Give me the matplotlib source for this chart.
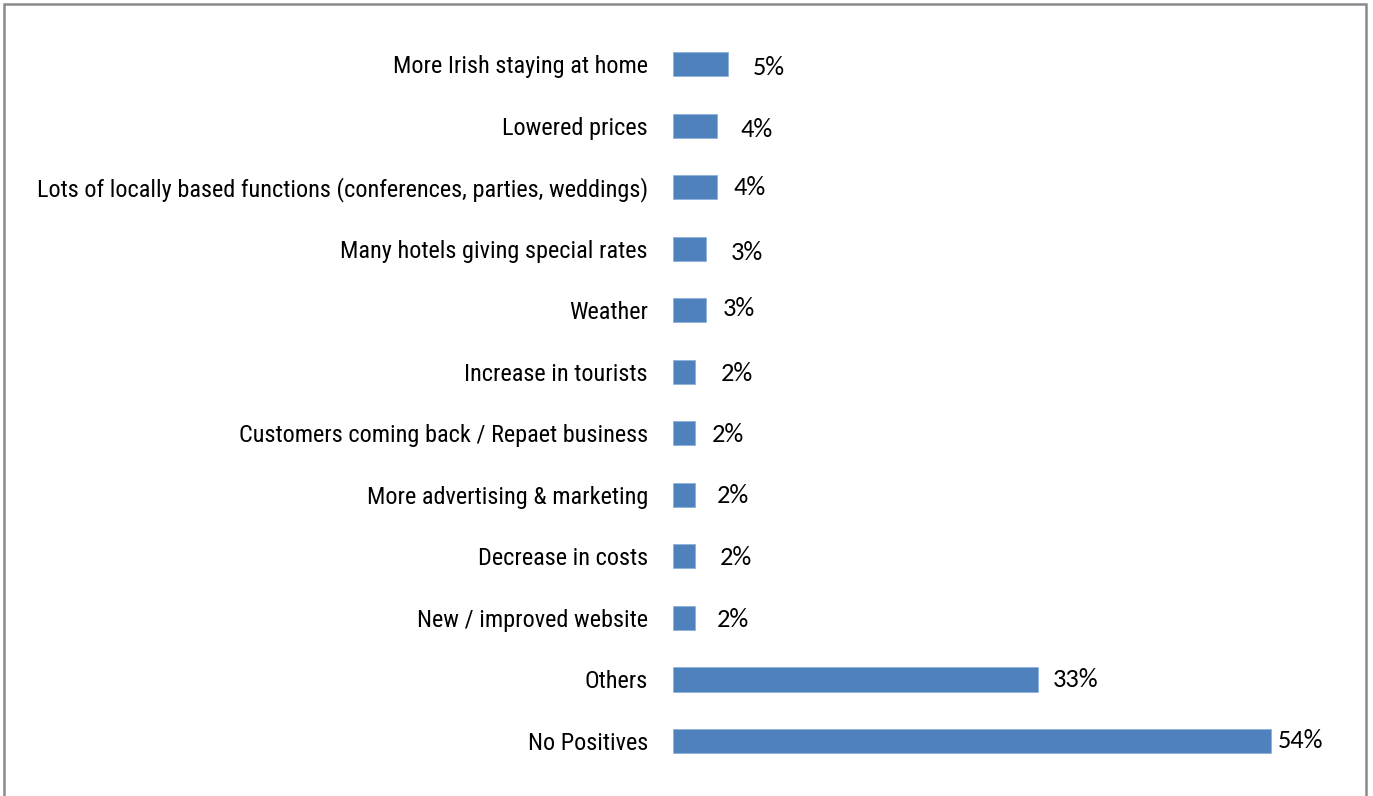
import matplotlib
matplotlib.use("Agg")
import matplotlib.pyplot as plt
from matplotlib.patches import Rectangle

categories = [
    "More Irish staying at home",
    "Lowered prices",
    "Lots of locally based functions (conferences, parties, weddings)",
    "Many hotels giving special rates",
    "Weather",
    "Increase in tourists",
    "Customers coming back / Repaet business",
    "More advertising & marketing",
    "Decrease in costs",
    "New / improved website",
    "Others",
    "No Positives",
]
values = [5, 4, 4, 3, 3, 2, 2, 2, 2, 2, 33, 54]
value_labels = [f"{v}%" for v in values]

# hand-placed label nudges (pixels right of bar end, pixels down)
label_dx = [24, 23, 16, 25, 17, 26, 17, 22, 25, 22, 14, 7]
label_dy = [3, 4, 0, 4, -2, 2, 1, 1, 1, 2, 0, -1]

cat_font = ["Roboto Condensed", "Archivo Narrow", "DejaVu Sans"]
val_font = ["Carlito", "DejaVu Sans"]

W, H, DPI = 1373, 796, 100
fig = plt.figure(figsize=(W / DPI, H / DPI), dpi=DPI)
fig.patch.set_facecolor("white")

px_per_unit = 11.07
x0_px = 673
xmax = 60
slot = 61.55
top_px = 64 - slot / 2
ax = fig.add_axes([x0_px / W, 1 - (top_px + 12 * slot) / H,
                   xmax * px_per_unit / W, 12 * slot / H])

ypos = list(range(len(categories)))
ax.barh(ypos, values, height=0.39, color="#4F81BD", edgecolor="#8EB0DA", linewidth=0.6)
ax.set_xlim(0, xmax)
ax.set_ylim(len(categories) - 0.5, -0.5)
ax.set_yticks(ypos)
ax.set_yticklabels(categories, fontfamily=cat_font, fontsize=17.5, color="black")
ax.tick_params(axis="y", length=0, pad=18)
ax.set_xticks([])
for s in ax.spines.values():
    s.set_visible(False)

for y, v, lab, dx, dy in zip(ypos, values, value_labels, label_dx, label_dy):
    ax.annotate(lab, xy=(v, y), xytext=(dx * 0.72, -dy * 0.72), textcoords="offset points",
                ha="left", va="center", fontsize=19, fontfamily=val_font, color="black")

# outer chart frame
fig.patches.append(Rectangle((4 / W, -0.05), (1366 - 4) / W, 1.05 - 4 / H,
                             transform=fig.transFigure, fill=False,
                             edgecolor="#8a8a8a", linewidth=1.8))

fig.savefig("out.png", dpi=DPI)
